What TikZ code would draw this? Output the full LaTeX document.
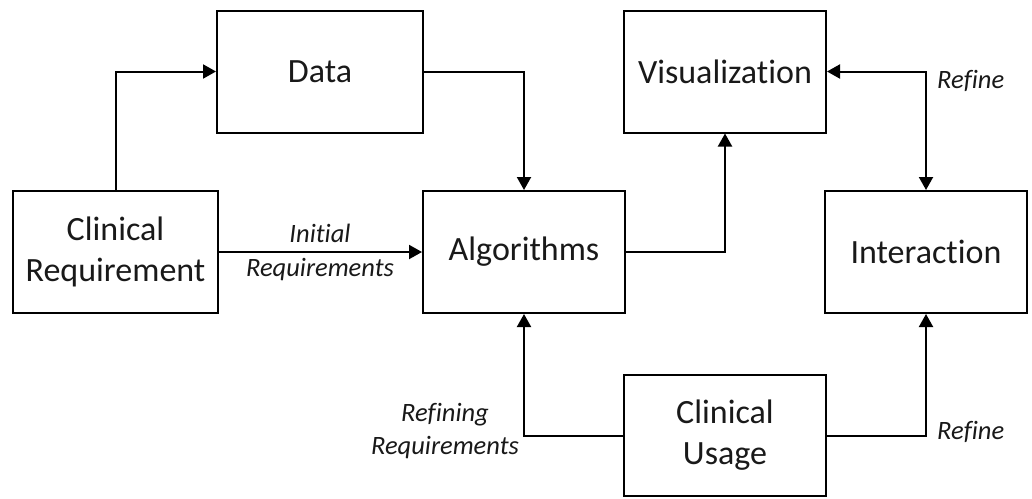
\documentclass[tikz,border=0pt]{standalone}
\usepackage{fontspec}
\setmainfont{Carlito}[Ligatures=NoCommon]
\usetikzlibrary{arrows.meta}
\begin{document}
\begin{tikzpicture}[x=1pt,y=-1pt,
  box/.style={draw,line width=2pt,inner sep=0pt,minimum width=202pt,minimum height=122pt,
    font=\fontsize{34}{41}\selectfont,align=center,text=black!90},
  conn/.style={line width=2pt,-{Triangle[length=13pt,width=14pt]}},
  lbl/.style={font=\fontsize{26.5}{33}\selectfont\itshape,align=center,inner sep=0pt,text=black!90}]
\path[use as bounding box] (0,0) rectangle (1032,498);
\node[box,minimum width=206pt] (data) at (320,71.5) {Data};
\node[box,minimum width=205pt] (cr) at (115.5,252) {Clinical\\Requirement};
\node[box] (algo) at (524,252) {Algorithms};
\node[box] (vis) at (725,71.5) {Visualization};
\node[box] (inter) at (926,252) {Interaction};
\node[box,minimum height=121pt] (use) at (725,435.5) {Clinical\\Usage};
\draw[conn] (cr.north) |- (data.west);
\draw[conn] (data.east) -| (algo.north);
\draw[conn] (cr.east) -- (algo.west);
\draw[conn] (algo.east) -| (vis.south);
\draw[line width=2pt,{Triangle[length=13pt,width=14pt]}-{Triangle[length=13pt,width=14pt]}] (vis.east) -| (inter.north);
\draw[conn] (use.west) -| (algo.south);
\draw[conn] (use.east) -| (inter.south);
\node[lbl] (l1) at (320,233) {Initial};
\node[lbl] (l2) at (320,270) {Requirements};
\node[lbl] (l3) at (445,431) {Refining\\Requirements};
\node[lbl,anchor=west] (l4) at (937,81) {Refine};
\node[lbl,anchor=west] (l5) at (937,432) {Refine};
\end{tikzpicture}
\end{document}
